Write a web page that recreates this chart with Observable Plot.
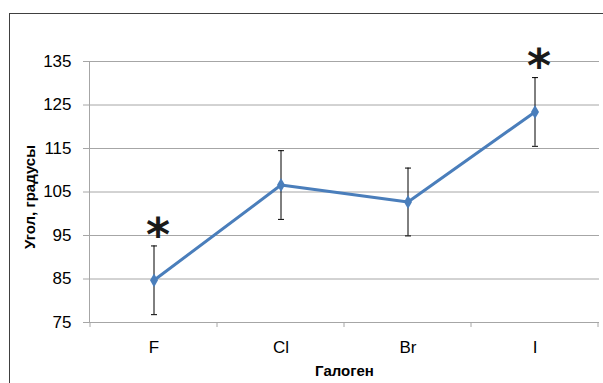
<!DOCTYPE html>
<html>
<head>
<meta charset="utf-8">
<script src="https://cdn.jsdelivr.net/npm/d3@7"></script>
<script src="https://cdn.jsdelivr.net/npm/@observablehq/plot@0.6"></script>
<style>
  body { margin: 0; background: #fff; }
  #chart { position: relative; width: 603px; height: 383px; overflow: hidden; }
  #chart .frame {
    position: absolute; left: 9px; top: 13px; width: 700px; height: 500px;
    border-left: 1px solid #404040; border-top: 1px solid #404040;
    pointer-events: none;
  }
  #chart svg { position: absolute; left: 0; top: 0; }
</style>
</head>
<body>
<div id="chart"><div class="frame"></div></div>
<script>
// Mean bond angle per halogen, with error (±) and significance flags
const halogens = ["F", "Cl", "Br", "I"];
const angles = [84.7, 106.6, 102.7, 123.4];
const errors = [7.9, 7.9, 7.8, 7.9];
const significant = [true, false, false, true];
const yTicks = [75, 85, 95, 105, 115, 125, 135];

const rows = halogens.map((h, i) => ({
  halogen: h,
  angle: angles[i],
  lo: angles[i] - errors[i],
  hi: angles[i] + errors[i],
  sig: significant[i]
}));

const gridColor = "#a6a6a6";
const lineColor = "#4a7ebb";

// Horizontal cap for the error bars; size comes from the dot radius
const capSymbol = {
  draw(ctx, size) {
    const r = Math.sqrt(size / Math.PI);
    ctx.moveTo(-r, 0);
    ctx.lineTo(r, 0);
  }
};

// Small tick marks at the boundaries between category bands
function bandEdgeTicks(index, scales, values, dims) {
  const x = scales.x;
  const bw = x.bandwidth();
  const y0 = dims.height - dims.marginBottom;
  const edges = [x(halogens[0]), ...halogens.map(h => x(h) + bw)];
  const g = d3.create("svg:g").attr("stroke", gridColor).attr("stroke-width", 1);
  for (const e of edges) {
    g.append("line")
      .attr("x1", e).attr("x2", e)
      .attr("y1", y0).attr("y2", y0 + 5);
  }
  return g.node();
}

const chart = Plot.plot({
  width: 603,
  height: 383,
  marginLeft: 89,
  marginRight: 4,
  marginTop: 61,
  marginBottom: 61,
  style: {
    fontFamily: "'Liberation Sans', Arial, sans-serif",
    fontSize: "17px",
    color: "#000",
    background: "transparent",
    overflow: "visible"
  },
  x: { type: "band", domain: halogens, padding: 0 },
  y: { domain: [75, 135] },
  marks: [
    Plot.gridY(yTicks, { stroke: gridColor, strokeOpacity: 1 }),
    Plot.frame({ anchor: "left", stroke: gridColor }),
    Plot.axisY(yTicks, {
      tickSize: 6, tickPadding: 12, stroke: gridColor, fill: "#000",
      label: null, fontSize: 17
    }),
    Plot.axisX({ tickSize: 0, tickPadding: 18, fill: "#000", label: null, fontSize: 17 }),
    bandEdgeTicks,
    // Error bars
    Plot.ruleX(rows, { x: "halogen", y1: "lo", y2: "hi", stroke: "#000", strokeWidth: 1 }),
    Plot.dot(rows, { x: "halogen", y: "lo", symbol: capSymbol, r: 3, stroke: "#000", strokeWidth: 1, fill: "none" }),
    Plot.dot(rows, { x: "halogen", y: "hi", symbol: capSymbol, r: 3, stroke: "#000", strokeWidth: 1, fill: "none" }),
    // Mean angles
    Plot.line(rows, { x: "halogen", y: "angle", stroke: lineColor, strokeWidth: 3 }),
    Plot.dot(rows, { x: "halogen", y: "angle", symbol: "diamond", r: 4.2, fill: lineColor, stroke: "none" }),
    // Significance markers
    Plot.text(rows.filter(d => d.sig), {
      x: "halogen", y: "hi", text: () => "*",
      fontFamily: "'DejaVu Sans', sans-serif", fontWeight: "bold", fontSize: 46,
      fill: "#1a1a1a", dx: 4, dy: -10
    }),
    // Axis titles
    Plot.text(["Угол, градусы"], {
      frameAnchor: "left", textAnchor: "middle", rotate: -90, dx: -59, dy: 5,
      fontWeight: "bold", fontSize: 15, fill: "#000"
    }),
    Plot.text(["Галоген"], {
      frameAnchor: "bottom", dy: 53,
      fontWeight: "bold", fontSize: 15, fill: "#000"
    })
  ]
});

document.getElementById("chart").appendChild(chart);
</script>
</body>
</html>
